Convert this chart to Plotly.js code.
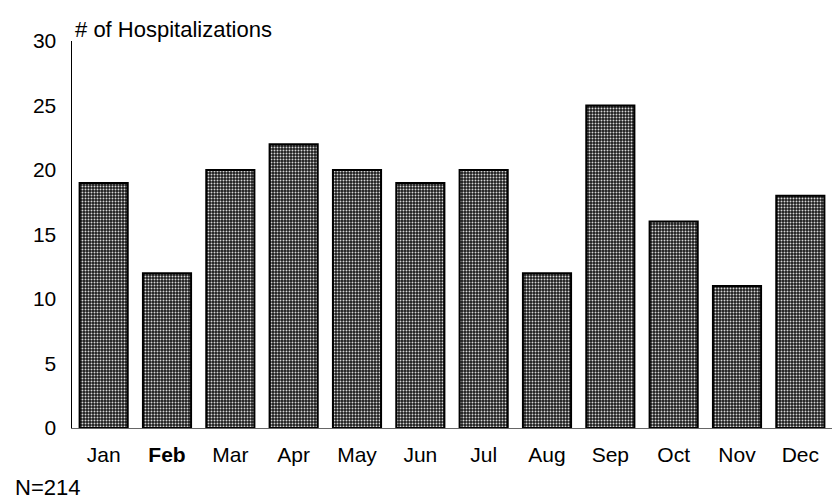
<!DOCTYPE html>
<html>
<head>
<meta charset="utf-8">
<script src="https://cdn.plot.ly/plotly-3.0.1.min.js"></script>
<style>html,body{margin:0;padding:0;background:#fff;}#chart{width:834px;height:501px;}</style>
</head>
<body>
<div id="chart"></div>
<script>
const months = ["Jan","Feb","Mar","Apr","May","Jun","Jul","Aug","Sep","Oct","Nov","Dec"];
const monthLabels = ["Jan","<b>Feb</b>","Mar","Apr","May","Jun","Jul","Aug","Sep","Oct","Nov","Dec"];
const hospitalizations = [19,12,20,22,20,19,20,12,25,16,11,18];
const yTickVals = [0,5,10,15,20,25,30];
const yTickText = ["0","5","10","15","20","25","30"];

const sans = "Liberation Sans, Arial, sans-serif";

const bars = {
  type: "bar",
  x: months,
  y: hospitalizations,
  marker: {
    color: "#2a2a2a",
    line: {color: "#000", width: 2},
    pattern: {shape: ".", fgcolor: "#d6d6d6", bgcolor: "#1a1a1a", size: 3, solidity: 0.33}
  },
  hoverinfo: "x+y"
};

const layout = {
  width: 834, height: 501,
  margin: {l: 72, r: 2, t: 41, b: 73},
  paper_bgcolor: "#fff", plot_bgcolor: "#fff",
  bargap: 0.24,
  showlegend: false,
  font: {family: sans, color: "#000", size: 21},
  title: {
    text: "# of Hospitalizations",
    font: {family: sans, size: 22, color: "#000"},
    xref: "paper", x: 0.004, xanchor: "left",
    yref: "container", y: 1 - 29/501, yanchor: "middle"
  },
  xaxis: {
    type: "category",
    tickvals: months, ticktext: monthLabels,
    showgrid: false, zeroline: false,
    showline: true, linecolor: "#666", linewidth: 1,
    ticks: "", ticklabelstandoff: 8,
    tickfont: {family: sans, size: 21, color: "#000"}
  },
  yaxis: {
    range: [0, 30],
    tickvals: yTickVals, ticktext: yTickText,
    showgrid: false, zeroline: false,
    showline: true, linecolor: "#000", linewidth: 1.5,
    ticks: "", ticklabelstandoff: 10,
    tickfont: {family: sans, size: 21, color: "#000"}
  },
  annotations: [{
    text: "N=214", xref: "paper", yref: "paper",
    x: -0.078, xanchor: "left", y: -0.155, yanchor: "middle",
    showarrow: false, font: {family: sans, size: 22, color: "#000"}
  }]
};

Plotly.newPlot("chart", [bars], layout, {displayModeBar: false, staticPlot: true});
</script>
</body>
</html>
